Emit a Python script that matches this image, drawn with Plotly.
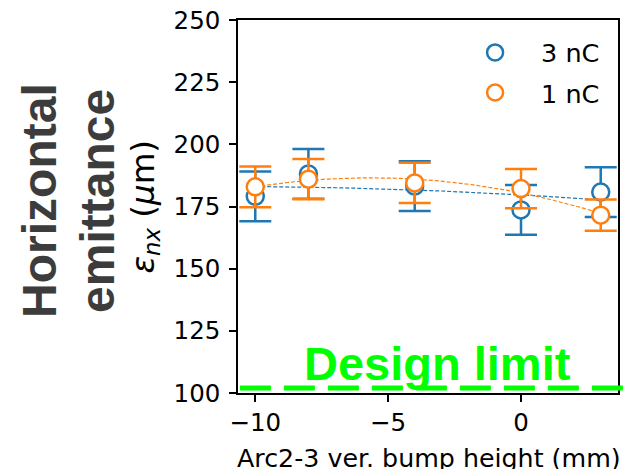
import numpy as np
import plotly.graph_objects as go

# Arc2-3 vertical bump scan: normalized horizontal emittance vs bump height
bump_mm = [-10, -8, -4, 0, 3]

emit_3nC = [179.1, 188.1, 183.2, 173.6, 180.8]
err_3nC = [10.0, 10.0, 10.0, 10.0, 10.0]

emit_1nC = [182.9, 186.0, 184.5, 182.2, 171.5]
err_1nC = [8.2, 8.1, 8.1, 7.9, 6.3]

design_limit = 102
y_ticks = [100, 125, 150, 175, 200, 225, 250]
x_ticks = [-10, -5, 0]

BLUE = "#1f77b4"
ORANGE = "#ff7f0e"
GREEN = "#00ff00"
TICK_FONT = dict(family="DejaVu Sans", size=24.5, color="black")

fig = go.Figure()

# quadratic fits to each charge setting
x_fit = np.linspace(min(bump_mm), max(bump_mm), 120)
for ys, col in [(emit_3nC, BLUE), (emit_1nC, ORANGE)]:
    coef = np.polyfit(bump_mm, ys, 2)
    fig.add_trace(go.Scatter(
        x=x_fit, y=np.polyval(coef, x_fit), mode="lines",
        line=dict(color=col, width=1.2, dash="4px,2px"),
        showlegend=False, hoverinfo="skip"))

for name, ys, errs, col in [("3 nC", emit_3nC, err_3nC, BLUE),
                            ("1 nC", emit_1nC, err_1nC, ORANGE)]:
    fig.add_trace(go.Scatter(
        x=bump_mm, y=ys, mode="markers", name=name, legendgroup=name,
        marker=dict(symbol="circle", size=17, color="white",
                    line=dict(color=col, width=2.5)),
        error_y=dict(type="data", array=errs, visible=True,
                     color=col, thickness=2.5, width=16)))

# design limit line, running past the right edge of the axes
fig.add_shape(type="line", xref="paper", yref="y",
              x0=0.005, x1=1.03, y0=design_limit, y1=design_limit,
              line=dict(color=GREEN, width=5, dash="31px,13px"), layer="above")

fig.add_annotation(x=-3.15, y=design_limit, xref="x", yref="y",
                   text="<b>Design limit</b>", showarrow=False,
                   xanchor="center", yanchor="bottom", yshift=-4,
                   font=dict(family="Liberation Sans", size=47, color=GREEN))

# left-hand labels
for txt, px in [("Horizontal", 40), ("emittance", 98)]:
    fig.add_annotation(x=(px - 238) / 380, y=0.515, xref="paper", yref="paper",
                       text=f"<b>{txt}</b>", textangle=-90, showarrow=False,
                       xanchor="center", yanchor="middle",
                       font=dict(family="Liberation Sans", size=48, color="#3c3c3c"))

# y-axis quantity label
fig.add_annotation(x=(144 - 238) / 380, y=0.5, xref="paper", yref="paper",
                   text="<i>ε</i><sub><i>nx</i></sub> (<i>μ</i>m)", textangle=-90,
                   showarrow=False, xanchor="center", yanchor="middle",
                   font=dict(family="DejaVu Sans", size=32.5, color="black"))

# x-axis quantity label
fig.add_annotation(x=0, y=(393 - 442) / 373, xref="paper", yref="paper",
                   text="Arc2-3 ver. bump height (mm)", showarrow=False,
                   xanchor="left", yanchor="top", xshift=-3,
                   font=dict(family="DejaVu Sans", size=25.3, color="black"))

fig.update_xaxes(range=[-10.65, 3.65], tickvals=x_ticks,
                 showgrid=False, zeroline=False,
                 showline=True, linecolor="black", linewidth=1.5, mirror=True,
                 ticks="outside", ticklen=7, tickwidth=1.5, tickcolor="black",
                 tickfont=TICK_FONT, automargin=False)
fig.update_yaxes(range=[100, 250], tickvals=y_ticks,
                 showgrid=False, zeroline=False,
                 showline=True, linecolor="black", linewidth=1.5, mirror=True,
                 ticks="outside", ticklen=7, tickwidth=1.5, tickcolor="black",
                 tickfont=TICK_FONT, ticklabelstandoff=4, automargin=False)

fig.update_layout(
    width=624, height=469,
    margin=dict(l=238, r=6, t=20, b=76),
    paper_bgcolor="white", plot_bgcolor="white",
    showlegend=True,
    legend=dict(x=0.966, y=0.975, xanchor="right", yanchor="top",
                bgcolor="rgba(255,255,255,0)", borderwidth=0,
                tracegroupgap=4, itemwidth=82,
                font=dict(family="DejaVu Sans", size=25.5, color="black")),
)

fig.write_html("out.html")
